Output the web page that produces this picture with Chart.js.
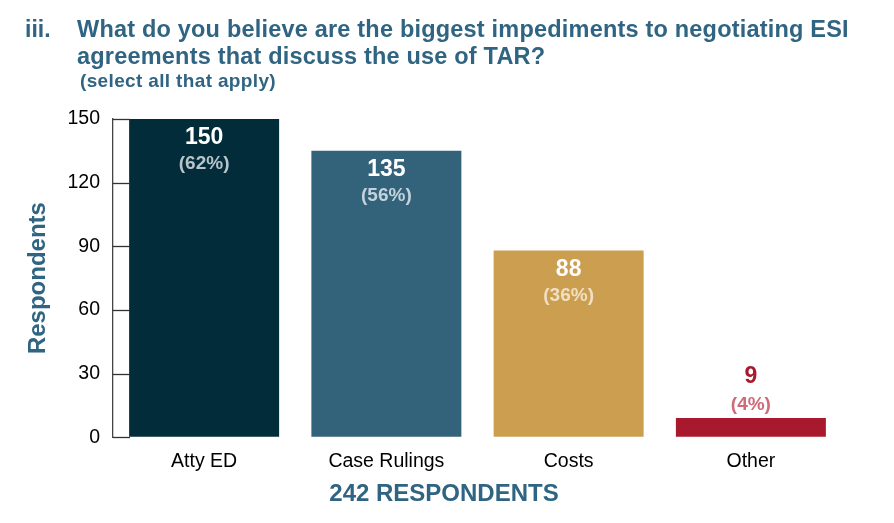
<!DOCTYPE html>
<html>
<head>
<meta charset="utf-8">
<script src="https://cdn.jsdelivr.net/npm/chart.js@4.4.0/dist/chart.umd.min.js"></script>
<style>
  body { margin: 0; background: #fff; font-family: "Liberation Sans", Arial, sans-serif; }
  #wrap { position: relative; width: 894px; height: 523px; }
  #chart { position: absolute; left: 0; top: 0; }
  .head { position: absolute; color: #2f6482; font-weight: bold; white-space: nowrap; }
  #num { left: 25px; top: 16px; font-size: 23px; line-height: 27px; }
  #q { left: 77px; top: 16px; font-size: 23.5px; line-height: 27px; letter-spacing: 0.2px; }
  #sub { left: 80px; top: 71px; font-size: 19px; line-height: 20px; letter-spacing: 0.35px; }
</style>
</head>
<body>
<div id="wrap">
  <canvas id="chart" width="894" height="523"></canvas>
  <div class="head" id="num">iii.</div>
  <div class="head" id="q">What do you believe are the biggest impediments to negotiating ESI<br>agreements that discuss the use of TAR?</div>
  <div class="head" id="sub">(select all that apply)</div>
</div>
<script>
let categories = ['Atty ED', 'Case Rulings', 'Costs', 'Other'];
let respondents = [150, 135, 88, 9];
let percents = ['62%', '56%', '36%', '4%'];
let yTicks = [0, 30, 60, 90, 120, 150];

let barColors = ['#022c3a', '#33637b', '#cc9e50', '#a8192d'];
let pctColors = ['#b7c4ca', '#c3d2db', '#f0e0c2', '#cf6a78'];
let font = '"Liberation Sans", Arial, sans-serif';

// short tick marks that point into the plot, like the original
const innerTicks = {
  id: 'innerTicks',
  afterDraw(chart) {
    let ctx = chart.ctx;
    let y = chart.scales.y;
    let left = chart.chartArea.left;
    ctx.save();
    ctx.strokeStyle = '#333';
    ctx.lineWidth = 1.3;
    yTicks.forEach(v => {
      let py = Math.round(y.getPixelForValue(v)) + 0.5;
      ctx.beginPath();
      ctx.moveTo(left, py);
      ctx.lineTo(left + 17, py);
      ctx.stroke();
    });
    ctx.restore();
  }
};

// value + percent labels
const barLabels = {
  id: 'barLabels',
  afterDatasetsDraw(chart) {
    let ctx = chart.ctx;
    let meta = chart.getDatasetMeta(0);
    ctx.save();
    ctx.textAlign = 'center';
    ctx.textBaseline = 'middle';
    meta.data.forEach((bar, i) => {
      let inside = bar.base - bar.y > 60;
      let vy, py, vc;
      if (inside) {
        vy = bar.y + 19;
        py = bar.y + 45;
        vc = '#ffffff';
      } else {
        vy = bar.y - 41;
        py = bar.y - 13;
        vc = barColors[i];
      }
      ctx.fillStyle = vc;
      ctx.font = 'bold 23px ' + font;
      ctx.fillText(respondents[i], bar.x, vy);
      ctx.fillStyle = pctColors[i];
      ctx.font = 'bold 19px ' + font;
      ctx.fillText('(' + percents[i] + ')', bar.x, py);
    });
    ctx.restore();
  }
};

new Chart(document.getElementById('chart'), {
  type: 'bar',
  data: {
    labels: categories,
    datasets: [{
      data: respondents,
      backgroundColor: barColors,
      barPercentage: 0.823,
      categoryPercentage: 1
    }]
  },
  options: {
    responsive: false,
    animation: false,
    layout: { padding: { top: 119, left: 0, right: 6, bottom: 0 } },
    plugins: {
      legend: { display: false },
      tooltip: { enabled: false },
      title: {
        display: true,
        position: 'bottom',
        text: '242 RESPONDENTS',
        color: '#2f6482',
        font: { family: font, size: 24, weight: 'bold' },
        padding: { top: 0, bottom: 14 }
      }
    },
    scales: {
      x: {
        afterFit(scale) { scale.height = 43; },
        grid: { display: false, drawTicks: false },
        border: { display: false },
        ticks: { color: '#000', font: { family: font, size: 19.5 }, padding: 13 }
      },
      y: {
        min: 0,
        max: 150,
        afterBuildTicks(scale) { scale.ticks = yTicks.map(v => ({ value: v })); },
        afterFit(scale) { scale.width = 113; },
        grid: { drawOnChartArea: false, drawTicks: false },
        border: { display: true, color: '#444', width: 1.3 },
        ticks: { color: '#000', font: { family: font, size: 19.5 }, padding: 13 },
        title: {
          display: true,
          text: 'Respondents',
          color: '#2f6482',
          font: { family: font, size: 24, weight: 'bold' },
          padding: { top: 23.6, bottom: 0 }
        }
      },
      // empty right-hand box so the footer title sits where the original has it
      yRight: {
        position: 'right',
        afterFit(scale) { scale.width = 46; },
        grid: { display: false },
        border: { display: false },
        ticks: { display: false }
      }
    }
  },
  plugins: [innerTicks, barLabels]
});
</script>
</body>
</html>
